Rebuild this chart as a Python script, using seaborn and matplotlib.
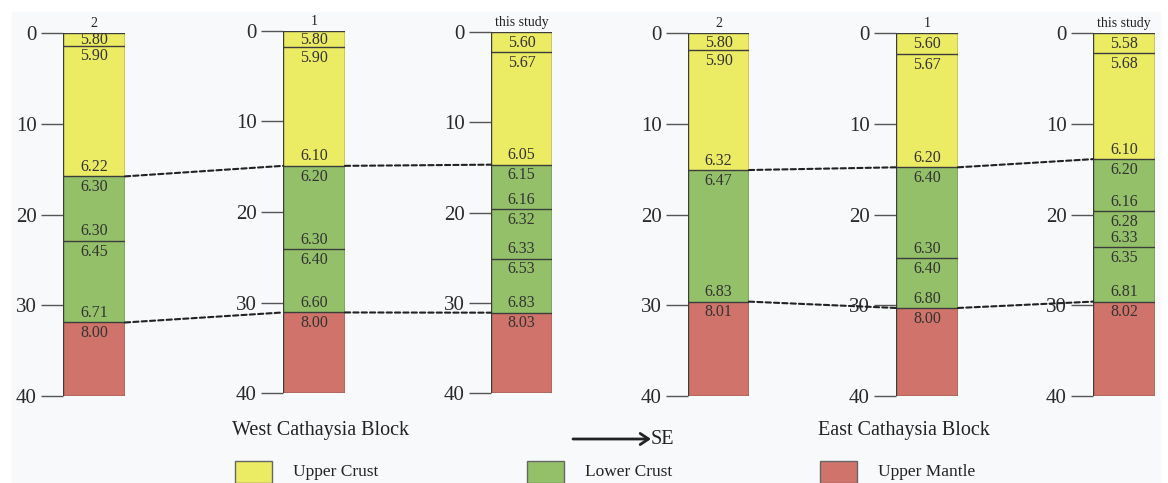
import numpy as np
import matplotlib
matplotlib.use("Agg")
import matplotlib.pyplot as plt
import seaborn as sns
from matplotlib.patches import Rectangle, ConnectionPatch

# column titles
col_titles = ["2", "1", "this study", "2", "1", "this study"]

# layer bottom depths (km) for each column
bottoms_1 = [1.4, 15.8, 22.9, 31.9, 40]
bottoms_2 = [1.8, 14.9, 24.1, 31.1, 40]
bottoms_3 = [2.2, 14.7, 19.6, 25.1, 31.1, 40]
bottoms_4 = [1.9, 15.1, 29.6, 40]
bottoms_5 = [2.3, 14.8, 24.8, 30.3, 40]
bottoms_6 = [2.2, 13.9, 19.6, 23.6, 29.6, 40]

# layer kinds: U = upper crust, L = lower crust, M = upper mantle
kinds_1 = ["U", "U", "L", "L", "M"]
kinds_2 = ["U", "U", "L", "L", "M"]
kinds_3 = ["U", "U", "L", "L", "L", "M"]
kinds_4 = ["U", "U", "L", "M"]
kinds_5 = ["U", "U", "L", "L", "M"]
kinds_6 = ["U", "U", "L", "L", "L", "M"]

# velocity at top / bottom of each layer (km/s)
vtop_1 = ["5.80", "5.90", "6.30", "6.45", "8.00"]
vbot_1 = [None, "6.22", "6.30", "6.71", None]
vtop_2 = ["5.80", "5.90", "6.20", "6.40", "8.00"]
vbot_2 = [None, "6.10", "6.30", "6.60", None]
vtop_3 = ["5.60", "5.67", "6.15", "6.32", "6.53", "8.03"]
vbot_3 = [None, "6.05", "6.16", "6.33", "6.83", None]
vtop_4 = ["5.80", "5.90", "6.47", "8.01"]
vbot_4 = [None, "6.32", "6.83", None]
vtop_5 = ["5.60", "5.67", "6.40", "6.40", "8.00"]
vbot_5 = [None, "6.20", "6.30", "6.80", None]
vtop_6 = ["5.58", "5.68", "6.20", "6.28", "6.35", "8.02"]
vbot_6 = [None, "6.10", "6.16", "6.33", "6.81", None]

depth_ticks = [0, 10, 20, 30, 40]
legend_names = ["Upper Crust", "Lower Crust", "Upper Mantle"]

bottoms = [bottoms_1, bottoms_2, bottoms_3, bottoms_4, bottoms_5, bottoms_6]
kinds = [kinds_1, kinds_2, kinds_3, kinds_4, kinds_5, kinds_6]
vtops = [vtop_1, vtop_2, vtop_3, vtop_4, vtop_5, vtop_6]
vbots = [vbot_1, vbot_2, vbot_3, vbot_4, vbot_5, vbot_6]

colors = {"U": "#ebeb64", "L": "#93c068", "M": "#d0736a"}

sns.set_theme(style="white")
plt.rcParams['font.family'] = ['Liberation Serif', 'DejaVu Serif']

W, H = 1168, 483
fig = plt.figure(figsize=(W / 100, H / 100), dpi=100)
fig.patch.set_facecolor("white")
fig.add_artist(Rectangle((12 / W, 0), (1160 - 12) / W, (H - 12) / H,
                         transform=fig.transFigure, color="#f8f9fa", zorder=-10))

# bar boxes in pixels: left, right, top, bottom
boxes = [(63, 125, 33, 396), (283, 345, 31, 393), (491, 552, 32, 393),
         (688, 749, 33, 396), (896, 958, 33, 396), (1093, 1155, 33, 396)]

axes = []
for i, (l, r, t, b) in enumerate(boxes):
    ax = fig.add_axes([l / W, 1 - b / H, (r - l) / W, (b - t) / H])
    ax.set_facecolor("none")
    # draw deepest layer first, shallower ones on top
    for j in range(len(bottoms[i]) - 1, -1, -1):
        sns.barplot(x=[0], y=[bottoms[i][j]], color=colors[kinds[i][j]],
                    saturation=1, width=1, errorbar=None,
                    edgecolor="#3c3c3c", linewidth=1.0, ax=ax)
    ax.set_xlim(-0.5, 0.5)
    ax.set_ylim(40, 0)
    ax.set_xlabel("")
    ax.set_ylabel("")
    ax.set_xticks([])
    ax.set_yticks(depth_ticks)
    ax.tick_params(axis="y", left=True, length=16, width=1, color="#555555",
                   pad=3, labelsize=15, labelcolor="#2a2a2a")
    for s in ax.spines.values():
        s.set_visible(False)
    ax.set_title(col_titles[i], fontsize=10, pad=4, color="#222222")

    tops = [0] + bottoms[i][:-1]
    for j in range(len(bottoms[i])):
        if j == 0:
            ax.text(0, (tops[j] + bottoms[i][j]) / 2 + 0.1, vtops[i][j], ha="center",
                    va="center", fontsize=11.5, color="#333333")
            continue
        ax.text(0, tops[j] + 0.3, vtops[i][j], ha="center", va="top",
                fontsize=11.5, color="#333333")
        if vbots[i][j] is not None:
            ax.text(0, bottoms[i][j] - 0.15, vbots[i][j], ha="center",
                    va="bottom", fontsize=11.5, color="#333333")
    axes.append(ax)

# dashed lines joining crustal boundary and Moho within each block
def boundary(i, kind_above):
    k = kinds[i]
    last = max(j for j in range(len(k)) if k[j] == kind_above)
    return bottoms[i][last]

for a, b in [(0, 1), (1, 2), (3, 4), (4, 5)]:
    for kind in ["U", "L"]:
        con = ConnectionPatch(xyA=(0.5, boundary(a, kind)), coordsA=axes[a].transData,
                              xyB=(-0.5, boundary(b, kind)), coordsB=axes[b].transData,
                              linestyle=(0, (2.5, 1.5)), color="#222222", lw=1.5, zorder=5)
        fig.add_artist(con)

fig.text(320 / W, 1 - 431 / H, "West Cathaysia Block", ha="center", va="center",
         fontsize=14.5, color="#222222")
fig.text(904 / W, 1 - 431 / H, "East Cathaysia Block", ha="center", va="center",
         fontsize=14.5, color="#222222")
fig.add_artist(matplotlib.patches.FancyArrowPatch(
    (573 / W, 1 - 439 / H), (651 / W, 1 - 439 / H), transform=fig.transFigure,
    arrowstyle="->,head_length=6,head_width=4", lw=2, color="#222222",
    shrinkA=0, shrinkB=0))
fig.text(651 / W, 1 - 439 / H, "SE", ha="left", va="center", fontsize=14.5,
         color="#222222")

for k, name, x0 in zip(["U", "L", "M"], legend_names, [235, 527, 820]):
    fig.add_artist(Rectangle((x0 / W, 0), 37 / W, 22 / H, transform=fig.transFigure,
                             facecolor=colors[k], edgecolor="#666666", lw=1))
    fig.text((x0 + 58) / W, 1 - 472 / H, name, ha="left", va="center",
             fontsize=12.5, color="#222222")

fig.savefig("out.png", dpi=100)
